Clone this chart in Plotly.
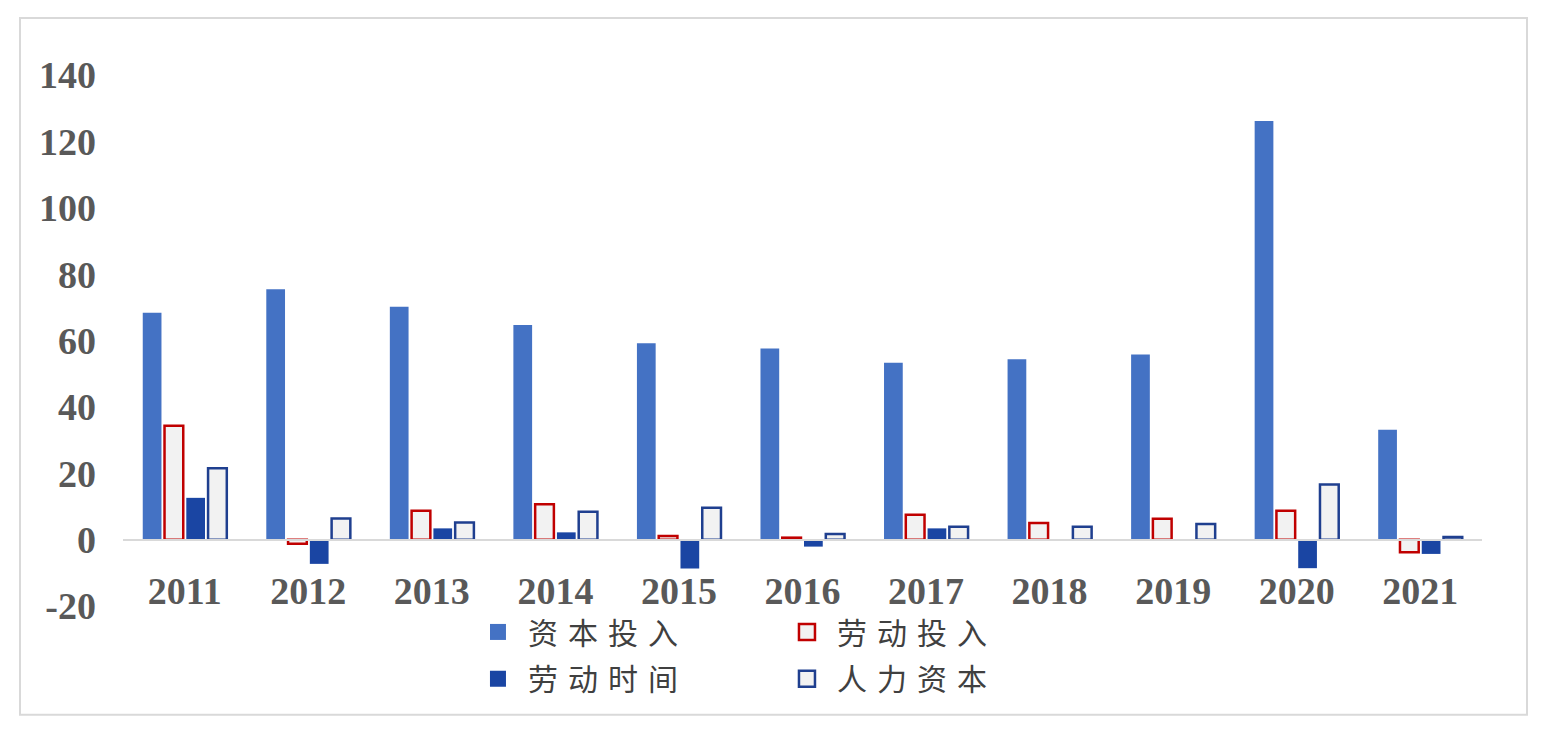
import plotly.graph_objects as go

years = ['2011', '2012', '2013', '2014', '2015', '2016',
         '2017', '2018', '2019', '2020', '2021']

capital_input = [68.4, 75.5, 70.2, 64.7, 59.2, 57.6, 53.3, 54.4, 55.8, 126.2, 33.1]
labor_input = [34.3, -1.2, 8.7, 10.7, 1.1, 0.6, 7.5, 5.0, 6.3, 8.7, -3.8]
labor_time = [12.6, -7.3, 3.4, 2.2, -8.7, -2.1, 3.4, 0, 0, -8.6, -4.3]
human_capital = [21.5, 6.4, 5.2, 8.4, 9.6, 1.7, 3.9, 3.9, 4.7, 16.6, 0.8]

y_ticks = [140, 120, 100, 80, 60, 40, 20, 0, -20]

GRAY = '#595959'
SERIF = 'Liberation Serif, Times New Roman, serif'
CJK = 'Noto Sans CJK SC'

# name, values, fill, outline, legend group
series = [
    ('资本投入', capital_input, '#4472C4', '#4472C4', 'legend'),
    ('劳动投入', labor_input, '#F2F2F2', '#C00000', 'legend'),
    ('劳动时间', labor_time, '#1A45A3', '#1A45A3', 'legend2'),
    ('人力资本', human_capital, '#F2F2F2', '#1F3F8F', 'legend2'),
]

fig = go.Figure()
for name, vals, fill, edge, lg in series:
    outlined = fill != edge
    fig.add_trace(go.Bar(x=years, y=vals, name=name, showlegend=False,
                         marker=dict(color=fill,
                                     line=dict(color=edge, width=2.5 if outlined else 0))))
    # legend-only entry so the key squares come out bigger than the bar default;
    # the original key is letter-spaced, so pad the characters a little
    fig.add_trace(go.Scatter(x=[None], y=[None], name='\u2004' + '\u2004'.join(name),
                             mode='markers', legend=lg,
                             marker=dict(symbol='square', size=16, color=fill,
                                         line=dict(color=edge, width=2.5 if outlined else 0))))

y_lo, y_hi = -20, 150
legend_font = dict(family=CJK, size=30, color='#404040')

# the page body adds an 8px margin, so the figure is a bit smaller than the window
fig.update_layout(
    width=1543, height=728,
    paper_bgcolor='white', plot_bgcolor='white',
    margin=dict(l=115, r=69, t=34, b=130),
    barmode='group', bargap=0.295, bargroupgap=0.14,
    xaxis=dict(
        type='category', anchor='free', position=(0 - y_lo) / (y_hi - y_lo),
        showline=True, linecolor='#D9D9D9', linewidth=2,
        showgrid=False, ticks='',
        tickfont=dict(family=SERIF, size=38, color=GRAY, weight='bold'),
        ticklabelstandoff=18,
    ),
    yaxis=dict(
        range=[y_lo, y_hi], tickvals=y_ticks, ticktext=[str(v) for v in y_ticks],
        showgrid=False, zeroline=False, showline=False,
        tickfont=dict(family=SERIF, size=38, color=GRAY, weight='bold'),
        ticklabelstandoff=26,
    ),
    legend=dict(orientation='h', x=0.2612, xanchor='left', y=-0.046, yanchor='middle',
                entrywidth=264, font=legend_font, bgcolor='rgba(0,0,0,0)',
                itemsizing='trace'),
    legend2=dict(orientation='h', x=0.2612, xanchor='left', y=-0.129, yanchor='middle',
                 entrywidth=264, font=legend_font, bgcolor='rgba(0,0,0,0)',
                 itemsizing='trace'),
    shapes=[dict(type='rect', xref='paper', yref='paper',
                 x0=-0.0758, x1=1.0331, y0=-0.193, y1=1.0426,
                 line=dict(color='#D9D9D9', width=2), layer='below')],
)

fig.write_html('out.html')
